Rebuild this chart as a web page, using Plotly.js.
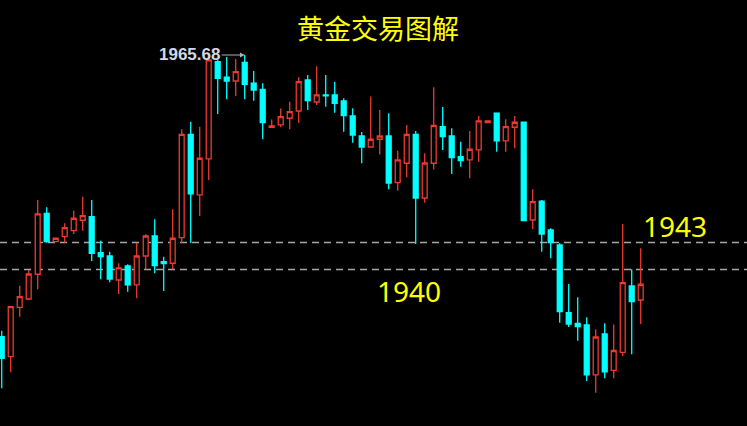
<!DOCTYPE html>
<html>
<head>
<meta charset="utf-8">
<script src="https://cdn.plot.ly/plotly-3.0.1.min.js"></script>
<style>html,body{margin:0;padding:0;background:#000;}#chart{width:747px;height:426px;}</style>
</head>
<body>
<div id="chart"></div>
<script>
var openP = [1932.53,1930.31,1935.80,1936.72,1939.47,1946.24,1943.09,1943.64,1944.31,1945.47,
1945.87,1941.87,1941.50,1938.83,1940.39,1938.28,1941.50,1943.72,1940.87,1940.69,
1943.53,1955.02,1948.28,1952.28,1963.09,1961.36,1960.94,1963.02,1960.69,1960.02,
1955.80,1956.06,1956.80,1957.61,1961.06,1958.61,1959.39,1959.39,1958.72,1957.06,
1954.83,1953.61,1954.47,1954.83,1949.64,1951.80,1955.02,1947.94,1951.80,1955.87,
1954.83,1952.53,1952.17,1953.28,1956.31,1957.36,1954.28,1955.80,1956.36,1945.50,
1947.58,1944.39,1942.72,1935.20,1934.02,1933.83,1928.28,1932.83,1928.78,1930.78,
1938.17,1936.61];
var highP = [1933.20,1935.87,1938.20,1939.94,1947.72,1946.91,1943.47,1945.13,1946.53,1948.09,
1947.72,1943.20,1941.98,1940.69,1940.58,1942.98,1943.91,1945.58,1941.42,1946.69,
1955.58,1956.42,1955.87,1963.61,1963.28,1963.61,1963.39,1963.83,1962.06,1960.69,
1956.67,1957.89,1958.64,1961.36,1961.61,1962.58,1961.61,1960.87,1959.02,1957.91,
1955.28,1959.22,1957.72,1957.36,1953.20,1956.06,1955.39,1952.91,1960.24,1958.06,
1955.69,1954.20,1955.39,1957.06,1956.50,1957.36,1956.69,1957.06,1956.36,1948.91,
1947.72,1944.58,1942.91,1938.39,1936.91,1934.69,1933.37,1934.02,1933.89,1945.06,
1940.02,1942.36];
var lowP = [1926.80,1928.58,1934.76,1936.61,1937.80,1942.98,1943.09,1942.98,1943.94,1944.31,
1940.94,1938.91,1938.58,1937.28,1937.53,1936.80,1940.02,1939.58,1937.61,1940.02,
1942.91,1942.94,1945.94,1949.94,1957.28,1958.91,1959.28,1958.91,1958.76,1954.47,
1955.80,1955.80,1955.58,1956.28,1957.72,1958.28,1958.09,1957.42,1955.31,1954.09,
1951.80,1953.61,1952.78,1948.91,1948.76,1950.24,1942.83,1947.42,1951.11,1953.28,
1950.61,1951.42,1950.13,1951.98,1956.31,1953.09,1953.09,1953.47,1945.42,1944.47,
1941.98,1941.24,1934.09,1933.61,1932.09,1927.61,1926.31,1927.91,1927.91,1930.39,
1930.59,1933.94];
var closeP = [1930.13,1935.87,1936.98,1939.50,1946.17,1943.09,1943.47,1944.64,1945.69,1945.98,
1941.80,1941.42,1938.94,1940.17,1938.28,1941.50,1943.72,1940.42,1940.64,1943.47,
1955.02,1948.39,1952.36,1963.28,1961.24,1960.94,1961.98,1960.58,1959.94,1956.31,
1955.94,1956.98,1957.53,1960.87,1958.76,1959.39,1959.28,1958.47,1957.11,1954.94,
1953.61,1954.47,1954.83,1949.61,1952.17,1955.02,1947.94,1951.83,1956.02,1954.76,
1952.44,1952.09,1953.36,1956.50,1956.50,1954.28,1955.87,1956.36,1945.42,1947.53,
1943.94,1943.00,1935.31,1933.94,1933.64,1928.28,1932.50,1928.64,1931.00,1938.53,
1936.42,1938.36];
var levels = [1943, 1940];
var levelLabels = ['1943', '1940'];
var highLabel = '1965.68';
var titleText = '黄金交易图解';

var xIdx = openP.map(function(_, i){ return i; });
var highIndex = highP.indexOf(Math.max.apply(null, highP));

var trace = {
  type: 'candlestick',
  x: xIdx, open: openP, high: highP, low: lowP, close: closeP,
  increasing: {line: {color: '#ec3a30', width: 1.3}, fillcolor: '#000000'},
  decreasing: {line: {color: '#00ffff', width: 1.3}, fillcolor: '#00ffff'},
  whiskerwidth: 0,
  hoverinfo: 'none'
};

var shapes = levels.map(function(v){
  return {type: 'line', xref: 'paper', x0: 0, x1: 1, yref: 'y', y0: v, y1: v,
    line: {color: '#a8a8a8', width: 1.7, dash: '7px,5px'}, layer: 'below'};
});

var layout = {
  width: 747, height: 426,
  paper_bgcolor: '#000', plot_bgcolor: '#000',
  margin: {l: 0, r: 0, t: 0, b: 0},
  showlegend: false,
  boxgap: 0.22,
  title: {text: titleText, x: 0.506, xanchor: 'center', y: 0.93, yanchor: 'middle',
    font: {family: 'Noto Sans CJK SC', size: 27, color: '#ffff00'}},
  xaxis: {range: [-0.19, 82.81], showgrid: false, zeroline: false, showticklabels: false,
    showline: false, ticks: '', rangeslider: {visible: false}, fixedrange: true},
  yaxis: {range: [1922.61, 1969.94], showgrid: false, zeroline: false, showticklabels: false,
    showline: false, ticks: '', fixedrange: true},
  shapes: shapes,
  annotations: [
    {x: 74.85, y: levels[0] + 1.8, xref: 'x', yref: 'y', text: levelLabels[0], showarrow: false,
      font: {family: 'Noto Sans', size: 28, color: '#ffff00'}},
    {x: 45.2, y: levels[1] - 2.4, xref: 'x', yref: 'y', text: levelLabels[1], showarrow: false,
      font: {family: 'Noto Sans', size: 28, color: '#ffff00'}},
    {x: highIndex, y: highP[highIndex], xref: 'x', yref: 'y', text: '<b>' + highLabel + '</b>',
      showarrow: true, ax: -55, ay: 0, arrowhead: 2, arrowsize: 0.8, arrowwidth: 1.2,
      arrowcolor: '#b0b0b0', font: {family: 'Liberation Sans', size: 17, color: '#d4d8e4'}}
  ]
};

Plotly.newPlot('chart', [trace], layout, {displayModeBar: false, staticPlot: true});
</script>
</body>
</html>
